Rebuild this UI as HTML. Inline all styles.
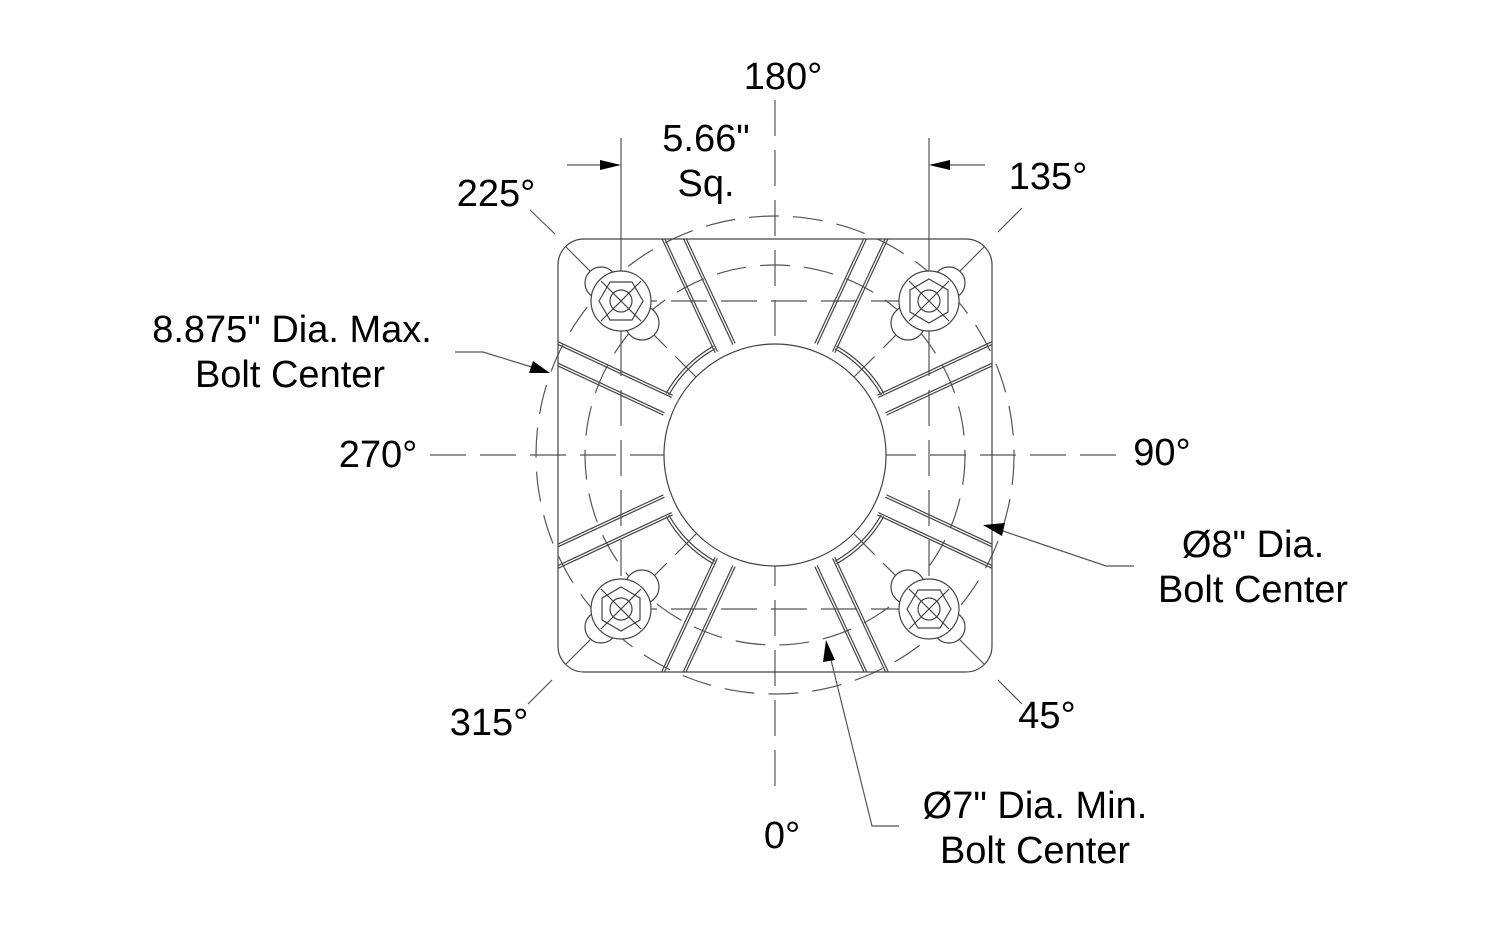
<!DOCTYPE html>
<html><head><meta charset="utf-8"><style>
html,body{margin:0;padding:0;background:#fff;}
svg{display:block;}
text{font-family:"Liberation Sans",Arial,sans-serif;font-size:38px;fill:#000;}
</style></head><body>
<svg width="1500" height="926" viewBox="0 0 1500 926" xmlns="http://www.w3.org/2000/svg">
<defs>
<clipPath id="plate"><rect x="558" y="239" width="434" height="433" rx="26" ry="26"/></clipPath>
<g id="rib" stroke="#444" stroke-width="1.2" fill="none">
 <line x1="893" y1="444" x2="1120" y2="444"/><line x1="893" y1="446.5" x2="1120" y2="446.5"/>
 <line x1="893" y1="466" x2="1120" y2="466"/><line x1="893" y1="463.5" x2="1120" y2="463.5"/>
</g>
<g id="arc" stroke="#444" stroke-width="1.2" fill="none">
 <path d="M892.6 422.4 A122 122 0 0 1 892.6 487.6"/>
 <path d="M895.5 421.6 A125 125 0 0 1 895.5 488.4"/>
</g>
</defs>
<g stroke="#555" stroke-width="1.2" fill="none">
 <circle cx="775" cy="455" r="239" stroke-dasharray="30 14"/>
 <circle cx="775" cy="455" r="190" stroke-dasharray="30 14"/>
 <!-- center lines -->
 <line x1="775" y1="100" x2="775" y2="800" stroke-dasharray="36 14"/>
 <line x1="430" y1="455" x2="1120" y2="455" stroke-dasharray="36 14"/>
 <line x1="621" y1="138" x2="621" y2="340"/>
 <line x1="621" y1="340" x2="621" y2="640" stroke-dasharray="36 14"/>
 <line x1="929" y1="138" x2="929" y2="340"/>
 <line x1="929" y1="340" x2="929" y2="640" stroke-dasharray="36 14"/>
 <line x1="621" y1="301" x2="929" y2="301" stroke-dasharray="36 14"/>
 <line x1="621" y1="609" x2="929" y2="609" stroke-dasharray="36 14"/>
 <g clip-path="url(#plate)">
  <use href="#rib" transform="rotate(-65 775 455)"/>
  <use href="#rib" transform="rotate(-115 775 455)"/>
  <use href="#rib" transform="rotate(-155 775 455)"/>
  <use href="#rib" transform="rotate(-25 775 455)"/>
  <use href="#rib" transform="rotate(25 775 455)"/>
  <use href="#rib" transform="rotate(65 775 455)"/>
  <use href="#rib" transform="rotate(115 775 455)"/>
  <use href="#rib" transform="rotate(155 775 455)"/>
  <line x1="565" y1="246" x2="700" y2="381" stroke-dasharray="40 12"/>
  <line x1="985" y1="246" x2="850" y2="381" stroke-dasharray="40 12"/>
  <line x1="565" y1="665" x2="700" y2="530" stroke-dasharray="40 12"/>
  <line x1="985" y1="665" x2="850" y2="530" stroke-dasharray="40 12"/>
 </g>
 <use href="#arc" transform="rotate(-135 775 455)"/>
 <use href="#arc" transform="rotate(-45 775 455)"/>
 <use href="#arc" transform="rotate(45 775 455)"/>
 <use href="#arc" transform="rotate(135 775 455)"/>
 <rect x="558" y="239" width="434" height="433" rx="26" ry="26" stroke="#444"/>
 <circle cx="775" cy="455" r="111" fill="#fff" stroke="#444"/>
 <g stroke="#444">
  <g transform="translate(621 301)">
   <circle cx="-20" cy="-18" r="16" fill="#fff"/><circle cx="21" cy="22" r="17" fill="#fff"/>
   <circle r="30" fill="#fff"/><polygon points="-22,0 -11,-19 11,-19 22,0 11,19 -11,19"/>
   <circle r="11"/><line x1="-20" y1="-20" x2="20" y2="20"/><line x1="-20" y1="20" x2="20" y2="-20"/>
  </g>
  <g transform="translate(929 301)">
   <circle cx="20" cy="-18" r="16" fill="#fff"/><circle cx="-21" cy="22" r="17" fill="#fff"/>
   <circle r="30" fill="#fff"/><polygon points="0,-22 19,-11 19,11 0,22 -19,11 -19,-11"/>
   <circle r="11"/><line x1="-20" y1="-20" x2="20" y2="20"/><line x1="-20" y1="20" x2="20" y2="-20"/>
  </g>
  <g transform="translate(621 609)">
   <circle cx="-20" cy="18" r="16" fill="#fff"/><circle cx="21" cy="-22" r="17" fill="#fff"/>
   <circle r="30" fill="#fff"/><polygon points="0,-22 19,-11 19,11 0,22 -19,11 -19,-11"/>
   <circle r="11"/><line x1="-20" y1="-20" x2="20" y2="20"/><line x1="-20" y1="20" x2="20" y2="-20"/>
  </g>
  <g transform="translate(929 609)">
   <circle cx="20" cy="18" r="16" fill="#fff"/><circle cx="-21" cy="-22" r="17" fill="#fff"/>
   <circle r="30" fill="#fff"/><polygon points="-22,0 -11,-19 11,-19 22,0 11,19 -11,19"/>
   <circle r="11"/><line x1="-20" y1="-20" x2="20" y2="20"/><line x1="-20" y1="20" x2="20" y2="-20"/>
  </g>
 </g>
 <line x1="530" y1="210" x2="555" y2="234"/>
 <line x1="998" y1="232" x2="1022" y2="208"/>
 <line x1="552" y1="680" x2="528" y2="704"/>
 <line x1="998" y1="680" x2="1022" y2="704"/>
 <line x1="567" y1="165" x2="605" y2="165"/>
 <line x1="945" y1="165" x2="985" y2="165"/>
 <polyline points="455,352 483,352 535,368"/>
 <polyline points="1134,566 1106,566 1000,530"/>
 <polyline points="899,826 872,826 831,660"/>
</g>
<g fill="#000">
 <polygon points="621,165 600,160 600,170"/>
 <polygon points="929,165 950,160 950,170"/>
 <polygon points="550,373 529,373 533,361"/>
 <polygon points="983,525 1005,523 1002,536"/>
 <polygon points="826,640 823,662 835,660"/>
</g>
<g text-anchor="middle">
 <text x="783" y="89">180°</text>
 <text x="706" y="151">5.66"</text>
 <text x="706" y="196">Sq.</text>
 <text x="496" y="206">225°</text>
 <text x="1048" y="189">135°</text>
 <text x="292" y="342">8.875" Dia. Max.</text>
 <text x="290" y="387">Bolt Center</text>
 <text x="378" y="467">270°</text>
 <text x="1162" y="465">90°</text>
 <text x="1253" y="557">Ø8" Dia.</text>
 <text x="1253" y="602">Bolt Center</text>
 <text x="489" y="735">315°</text>
 <text x="1047" y="728">45°</text>
 <text x="1035" y="818">Ø7" Dia. Min.</text>
 <text x="1035" y="863">Bolt Center</text>
 <text x="782" y="848">0°</text>
</g>
</svg>
</body></html>
